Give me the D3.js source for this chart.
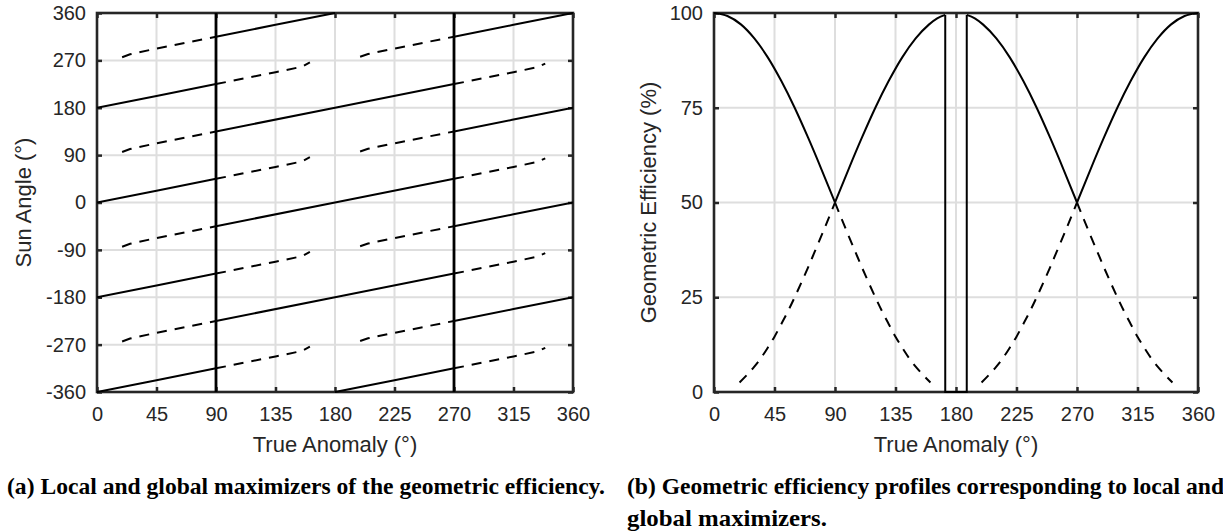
<!DOCTYPE html>
<html><head><meta charset="utf-8">
<script src="https://cdn.jsdelivr.net/npm/d3@7"></script>
<style>body{margin:0;background:#fff}svg{display:block}</style>
</head><body>
<svg id="c" width="1223" height="531"></svg>
<script>
// ---------------- data ----------------
const nuTicks = [0, 45, 90, 135, 180, 225, 270, 315, 360];
const sunTicks = [-360, -270, -180, -90, 0, 90, 180, 270, 360];
const effTicks = [0, 25, 50, 75, 100];

// (a) global maximizers (solid), [true anomaly, sun angle]
const sunGlobal = [
  [[0, 180], [45, 202.5], [90, 225]],
  [[0, 0], [45, 22.5], [90, 45]],
  [[0, -180], [45, -157.5], [90, -135]],
  [[0, -360], [45, -337.5], [90, -315]],
  [[90, 315], [135, 337.5], [180, 360]],
  [[90, 135], [180, 180], [270, 225]],
  [[90, -45], [180, 0], [270, 45]],
  [[90, -225], [180, -180], [270, -135]],
  [[180, -360], [225, -337.5], [270, -315]],
  [[270, 315], [315, 337.5], [360, 360]],
  [[270, 135], [315, 157.5], [360, 180]],
  [[270, -45], [315, -22.5], [360, 0]],
  [[270, -225], [315, -202.5], [360, -180]]
];
// switching of the global maximizer
const sunSwitch = [90, 270];

// (a) local maximizers (dashed)
const sunLocal = [
  [[19, 276], [25, 281.5], [45, 292.5], [90, 315]],
  [[19, 96], [25, 101.5], [45, 112.5], [90, 135]],
  [[19, -84], [25, -78.5], [45, -67.5], [90, -45]],
  [[19, -264], [25, -258.5], [45, -247.5], [90, -225]],
  [[90, 225], [135, 247.5], [155, 258], [161, 266]],
  [[90, 45], [135, 67.5], [155, 78], [161, 86]],
  [[90, -135], [135, -112.5], [155, -102], [161, -94]],
  [[90, -315], [135, -292.5], [155, -282], [161, -274]],
  [[199, 277], [205, 282], [225, 292.5], [270, 315]],
  [[199, 97], [205, 102], [225, 112.5], [270, 135]],
  [[199, -83], [205, -78], [225, -67.5], [270, -45]],
  [[199, -263], [205, -258], [225, -247.5], [270, -225]],
  [[270, 225], [315, 247.5], [333, 257], [339, 264]],
  [[270, 45], [315, 67.5], [333, 77], [339, 84]],
  [[270, -135], [315, -112.5], [333, -103], [339, -96]],
  [[270, -315], [315, -292.5], [333, -283], [339, -276]]
];

// (b) efficiency of global maximizers (solid), [true anomaly, %]
const effGlobal = [
  [[0, 100], [10, 99.2], [20, 97], [30, 93.3], [40, 88.3], [50, 82.1], [60, 75], [70, 67.1], [80, 58.7], [90, 50]],
  [[90, 50], [100, 58.7], [110, 67.1], [120, 75], [130, 82.1], [140, 88.3], [150, 93.3], [160, 97], [166, 98.6], [172, 99.5]],
  [[188, 99.5], [194, 98.6], [200, 97], [210, 93.3], [220, 88.3], [230, 82.1], [240, 75], [250, 67.1], [260, 58.7], [270, 50]],
  [[270, 50], [280, 58.7], [290, 67.1], [300, 75], [310, 82.1], [320, 88.3], [330, 93.3], [340, 97], [350, 99.2], [360, 100]]
];
// drop of the global profile around 180
const effGap = [[172, 99.5], [172, 0], [188, 0], [188, 99.5]];

// (b) efficiency of local maximizers (dashed)
const effLocal = [
  [[19, 2.5], [25, 4.7], [30, 6.7], [35, 9], [40, 11.7], [45, 14.6], [50, 17.9], [55, 21.3], [60, 25], [65, 28.9], [70, 32.9], [75, 37.1], [80, 41.3], [85, 45.6], [90, 50]],
  [[90, 50], [95, 45.6], [100, 41.3], [105, 37.1], [110, 32.9], [115, 28.9], [120, 25], [125, 21.3], [130, 17.9], [135, 14.6], [140, 11.7], [145, 9], [150, 6.7], [155, 4.7], [161, 2.5]],
  [[199, 2.5], [205, 4.7], [210, 6.7], [215, 9], [220, 11.7], [225, 14.6], [230, 17.9], [235, 21.3], [240, 25], [245, 28.9], [250, 32.9], [255, 37.1], [260, 41.3], [265, 45.6], [270, 50]],
  [[270, 50], [275, 45.6], [280, 41.3], [285, 37.1], [290, 32.9], [295, 28.9], [300, 25], [305, 21.3], [310, 17.9], [315, 14.6], [320, 11.7], [325, 9], [330, 6.7], [335, 4.7], [341, 2.5]]
];

const xLabel = "True Anomaly (°)";
const captionA = "(a) Local and global maximizers of the geometric efficiency.";
const captionB1 = "(b) Geometric efficiency profiles corresponding to local and";
const captionB2 = "global maximizers.";

// ---------------- drawing ----------------
const svg = d3.select('#c');
const defs = svg.append('defs');
const AX = '#262626';
const FONT = '"Liberation Sans", Arial, Helvetica, sans-serif';
const SERIF = '"Liberation Serif", "Times New Roman", Times, serif';

function panel(id, box, yDomain, yTicks, yLabel, yLabelX) {
  const x = d3.scaleLinear().domain([0, 360]).range([box.l, box.r]);
  const y = d3.scaleLinear().domain(yDomain).range([box.b, box.t]);
  const g = svg.append('g');
  defs.append('clipPath').attr('id', id).append('rect')
    .attr('x', box.l).attr('y', box.t - 2).attr('width', box.r - box.l).attr('height', box.b - box.t + 4);

  // grid
  g.append('g').selectAll('line').data(nuTicks).join('line')
    .attr('x1', d => x(d)).attr('x2', d => x(d)).attr('y1', box.t).attr('y2', box.b)
    .attr('stroke', '#dedede').attr('stroke-width', 2);
  g.append('g').selectAll('line').data(yTicks).join('line')
    .attr('y1', d => y(d)).attr('y2', d => y(d)).attr('x1', box.l).attr('x2', box.r)
    .attr('stroke', '#dedede').attr('stroke-width', 2);

  // axes (inward ticks, box)
  const mk = (a, tr, labels) => {
    const ax = g.append('g').attr('transform', tr).style('color', AX)
      .call(a.tickSizeInner(-5).tickSizeOuter(0));
    ax.select('.domain').remove();
    ax.selectAll('.tick line').attr('stroke-width', 2.5);
    if (!labels) ax.selectAll('text').remove();
    else ax.selectAll('text').attr('font-family', FONT).attr('font-size', 20).attr('fill', AX);
    return ax;
  };
  mk(d3.axisBottom(x).tickValues(nuTicks).tickFormat(d => String(d)).tickPadding(15), `translate(0,${box.b})`, true);
  mk(d3.axisTop(x).tickValues(nuTicks), `translate(0,${box.t})`, false);
  mk(d3.axisLeft(y).tickValues(yTicks).tickFormat(d => String(d)).tickPadding(11), `translate(${box.l},0)`, true);
  mk(d3.axisRight(y).tickValues(yTicks), `translate(${box.r},0)`, false);
  g.append('rect').attr('x', box.l).attr('y', box.t).attr('width', box.r - box.l).attr('height', box.b - box.t)
    .attr('fill', 'none').attr('stroke', AX).attr('stroke-width', 2.6);

  // titles
  g.append('text').attr('x', (box.l + box.r) / 2).attr('y', 452).attr('text-anchor', 'middle')
    .attr('font-family', FONT).attr('font-size', 22).attr('fill', AX).text(xLabel);
  g.append('text').attr('transform', `translate(${yLabelX},${(box.t + box.b) / 2}) rotate(-90)`)
    .attr('text-anchor', 'middle').attr('font-family', FONT).attr('font-size', 22).attr('fill', AX).text(yLabel);

  const data = g.append('g').attr('clip-path', `url(#${id})`);
  return {x, y, data};
}

// ----- panel (a)
const A = panel('clipA', {l: 97, r: 573, t: 13, b: 392}, [-360, 360], sunTicks, 'Sun Angle (°)', 31);
const lineA = d3.line().x(d => A.x(d[0])).y(d => A.y(d[1]));
A.data.selectAll('path.loc').data(sunLocal).join('path').attr('class', 'loc')
  .attr('d', lineA).attr('fill', 'none').attr('stroke', '#000').attr('stroke-width', 2)
  .attr('stroke-dasharray', '10,8');
A.data.selectAll('path.glob').data(sunGlobal).join('path').attr('class', 'glob')
  .attr('d', lineA).attr('fill', 'none').attr('stroke', '#000').attr('stroke-width', 2);
A.data.selectAll('line.sw').data(sunSwitch).join('line').attr('class', 'sw')
  .attr('x1', d => A.x(d)).attr('x2', d => A.x(d)).attr('y1', A.y(-360)).attr('y2', A.y(360))
  .attr('stroke', '#000').attr('stroke-width', 2.8);

// ----- panel (b)
const B = panel('clipB', {l: 714, r: 1198, t: 13, b: 392}, [0, 100], effTicks, 'Geometric Efficiency (%)', 656);
const lineB = d3.line().x(d => B.x(d[0])).y(d => B.y(d[1])).curve(d3.curveMonotoneX);
const lineBlin = d3.line().x(d => B.x(d[0])).y(d => B.y(d[1]));
B.data.selectAll('path.loc').data(effLocal).join('path').attr('class', 'loc')
  .attr('d', lineB).attr('fill', 'none').attr('stroke', '#000').attr('stroke-width', 2)
  .attr('stroke-dasharray', '10,8');
B.data.selectAll('path.glob').data(effGlobal).join('path').attr('class', 'glob')
  .attr('d', lineB).attr('fill', 'none').attr('stroke', '#000').attr('stroke-width', 2);
B.data.append('path').datum(effGap).attr('d', lineBlin).attr('fill', 'none')
  .attr('stroke', '#000').attr('stroke-width', 2);

// ----- captions
const cap = (txt, x, y, len) => svg.append('text').attr('x', x).attr('y', y)
  .attr('font-family', SERIF).attr('font-weight', 'bold').attr('font-size', 22.5).attr('fill', '#000')
  .attr('textLength', len).attr('lengthAdjust', 'spacingAndGlyphs').text(txt);
cap(captionA, 7, 494, 598);
cap(captionB1, 627, 494, 597);
cap(captionB2, 627, 526, 200);
</script>
</body></html>
